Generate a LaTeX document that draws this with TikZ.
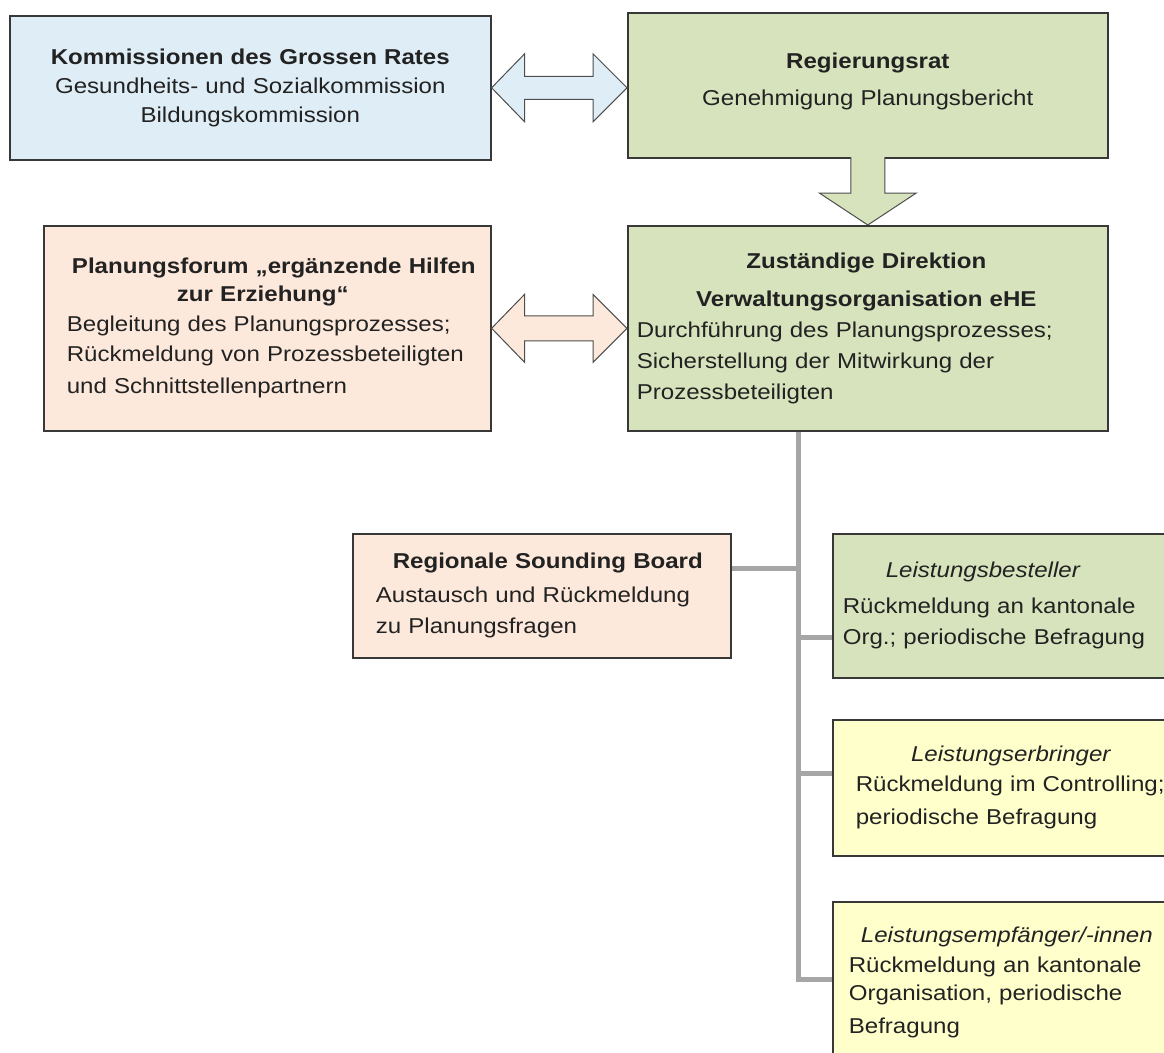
\documentclass[tikz,border=0pt]{standalone}
\usepackage{fontspec}
\setmainfont{Liberation Sans}[FakeStretch=1.12]
\usetikzlibrary{calc}
\definecolor{cBlue}{HTML}{DEEDF6}
\definecolor{cGreen}{HTML}{D7E3BD}
\definecolor{cPeach}{HTML}{FDE9DB}
\definecolor{cYellow}{HTML}{FFFFCC}
\definecolor{cBorder}{HTML}{383838}
\definecolor{cArrow}{HTML}{4D4D4D}
\definecolor{cConn}{HTML}{A6A6A6}
\definecolor{cText}{HTML}{222222}
\newcommand\ctitle[2]{\leavevmode\rlap{\makebox[#1]{#2}}}
\pgfdeclarelayer{bg}
\pgfsetlayers{bg,main}
\begin{document}
\begin{tikzpicture}[x=1pt,y=-1pt,
  box/.style={draw=cBorder, line width=1.6pt, anchor=north west, inner ysep=0pt,
    align=left, text=cText, font=\fontsize{21.5}{31}\selectfont},
  barrow/.style={draw=cArrow, line width=1pt, line join=miter},
  conn/.style={draw=cConn, line width=5pt}]
\useasboundingbox (0,0) rectangle (1164,1052);
\clip (0,0) rectangle (1164,1052);

\node[box, fill=cBlue, minimum width=481, minimum height=144, inner xsep=10, text width=461,
  align=center, font=\fontsize{21.5}{29}\selectfont] (kom) at (9,15)
  {\textbf{Kommissionen des Grossen Rates}\\Gesundheits- und Sozialkommission\\Bildungskommission};

\node[box, fill=cGreen, minimum width=480, minimum height=145, inner xsep=10, text width=460,
  align=center, text depth=50pt] (reg) at (627,12)
  {\textbf{Regierungsrat}\\[6pt]Genehmigung Planungsbericht};

\node[box, fill=cPeach, minimum width=447, minimum height=205, inner xsep=23, text width=401,
  font=\fontsize{21.5}{30}\selectfont] (plan) at (43,225)
  {\ctitle{414pt}{\textbf{Planungsforum „ergänzende Hilfen}}\\[-2pt]
   \ctitle{392pt}{\textbf{zur Erziehung“}}\\
   Begleitung des Planungsprozesses;\\
   Rückmeldung von Prozessbeteiligten\\[2pt]
   und Schnittstellenpartnern};

\node[box, fill=cGreen, minimum width=480, minimum height=205, inner xsep=9, text width=462] (dir) at (627,225)
  {\ctitle{459pt}{\textbf{Zuständige Direktion}}\\[7pt]
   \ctitle{459pt}{\textbf{Verwaltungsorganisation eHE}}\\
   Durchführung des Planungsprozesses;\\
   Sicherstellung der Mitwirkung der\\
   Prozessbeteiligten};

\node[box, fill=cPeach, minimum width=378, minimum height=124, inner xsep=23, text width=332] (rsb) at (352,533)
  {\ctitle{344pt}{\textbf{Regionale Sounding Board}}\\[3pt]
   Austausch und Rückmeldung\\
   zu Planungsfragen};

\node[box, fill=cGreen, minimum width=360, minimum height=144, inner xsep=10, text width=340] (bes) at (832,533)
  {\ctitle{280pt}{\itshape Leistungsbesteller}\\[5pt]
   Rückmeldung an kantonale\\
   Org.; periodische Befragung};

\node[box, fill=cYellow, minimum width=360, minimum height=136, inner xsep=23, text width=314] (erb) at (832,719)
  {\ctitle{310pt}{\itshape Leistungserbringer}\\[-1pt]
   Rückmeldung im Controlling;\\[2pt]
   periodische Befragung};

\node[box, fill=cYellow, minimum width=360, minimum height=162, inner xsep=16, text width=328] (emp) at (832,901)
  {\ctitle{316pt}{\itshape Leistungsempfänger/-innen}\\[-1pt]
   Rückmeldung an kantonale\\[-3pt]
   Organisation, periodische\\[2pt]
   Befragung};

% block arrows
\path (kom.east) coordinate (a1) (kom.east -| reg.west) coordinate (b1);
\draw[barrow, fill=cBlue] (a1) -- ($(a1)+(33,-34)$) -- ($(a1)+(33,-11.5)$) -- ($(b1)+(-34,-11.5)$)
  -- ($(b1)+(-34,-34)$) -- (b1) -- ($(b1)+(-34,34)$) -- ($(b1)+(-34,11.5)$)
  -- ($(a1)+(33,11.5)$) -- ($(a1)+(33,34)$) -- cycle;

\path (plan.east) coordinate (a2) (plan.east -| dir.west) coordinate (b2);
\draw[barrow, fill=cPeach] (a2) -- ($(a2)+(33,-34)$) -- ($(a2)+(33,-12.5)$) -- ($(b2)+(-34,-12.5)$)
  -- ($(b2)+(-34,-34)$) -- (b2) -- ($(b2)+(-34,34)$) -- ($(b2)+(-34,12.5)$)
  -- ($(a2)+(33,12.5)$) -- ($(a2)+(33,34)$) -- cycle;

\path (reg.south) coordinate (r3) (dir.north) coordinate (d3);
\filldraw[barrow, fill=cGreen] ($(r3)+(-17,-1.5)$) -- ($(d3)+(-17,-32)$) -- ($(d3)+(-48.5,-32)$) -- (d3)
  -- ($(d3)+(48.5,-32)$) -- ($(d3)+(17,-32)$) -- ($(r3)+(17,-1.5)$);

% connectors
\coordinate (ttop) at ($(dir.south west)+(171,0)$);
\coordinate (jr) at ($(rsb.north east)+(0,35)$);
\coordinate (jb) at ($(bes.north west)+(0,104)$);
\coordinate (je) at ($(erb.north west)+(0,54)$);
\coordinate (jm) at ($(emp.north west)+(0,78)$);
\begin{pgfonlayer}{bg}
\draw[conn] (ttop) -- (ttop |- jm) -- (jm);
\draw[conn] (jr) -- (jr -| ttop);
\draw[conn] (jb -| ttop) -- (jb);
\draw[conn] (je -| ttop) -- (je);
\end{pgfonlayer}
\end{tikzpicture}
\end{document}
